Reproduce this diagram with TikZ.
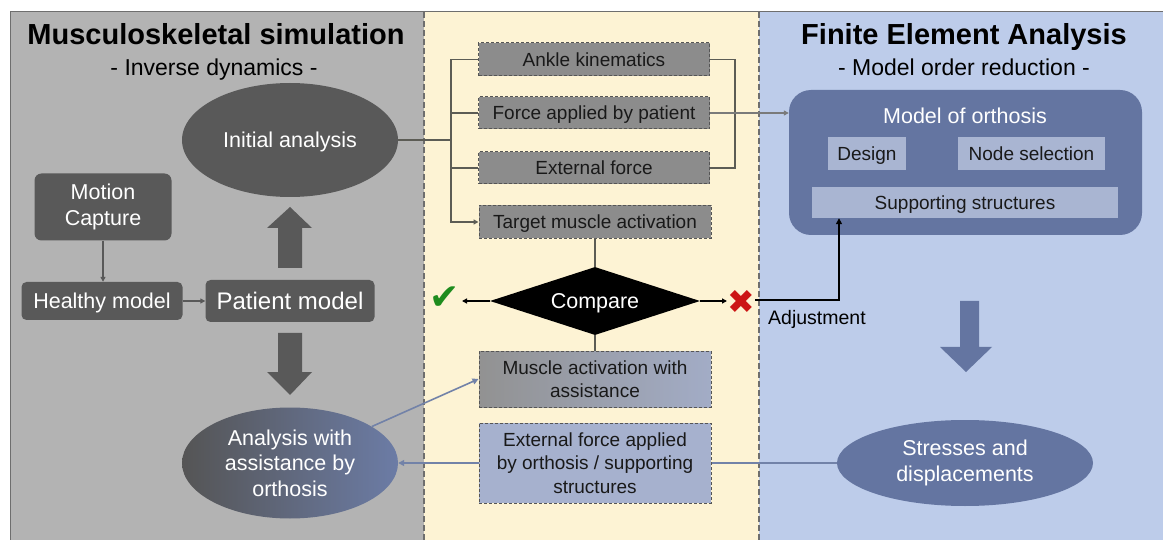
\documentclass[tikz,border=0pt]{standalone}
\usepackage{fontspec}
\setmainfont{Liberation Sans}
\newfontfamily\symfont{DejaVu Sans}
\usetikzlibrary{shapes.geometric,arrows.meta,calc}
\definecolor{leftbg}{HTML}{B3B3B3}
\definecolor{midbg}{HTML}{FDF3D4}
\definecolor{rightbg}{HTML}{BDCCEA}
\definecolor{darknode}{HTML}{595959}
\definecolor{midgray}{HTML}{8C8C8C}
\definecolor{dashgray}{HTML}{555555}
\definecolor{slate}{HTML}{6475A1}
\definecolor{lightslate}{HTML}{A9B5D2}
\definecolor{extfill}{HTML}{A6B1CE}
\definecolor{connblue}{HTML}{7282A8}
\definecolor{conngray}{HTML}{5C5C55}
\definecolor{okgreen}{HTML}{1E8C1E}
\definecolor{nored}{HTML}{CC1515}
\definecolor{divider}{HTML}{6E6E6E}
\begin{document}
\begin{tikzpicture}[x=1pt,y=-1pt,
  fs/.style={font=\fontsize{#1}{26}\selectfont},
  capsmid/.style={text height=#1, text depth=0pt},
  titletext/.style={font=\fontsize{29}{34}\selectfont\bfseries, anchor=base, inner sep=0},
  subtext/.style={font=\fontsize{23}{28}\selectfont, anchor=base, inner sep=0},
  darkbox/.style={rectangle, rounded corners=7pt, fill=darknode, text=white, align=center, inner sep=0},
  darkell/.style={ellipse, fill=darknode, text=white, align=center, inner sep=0, font=\fontsize{21.5}{26}\selectfont},
  midboxbase/.style={rectangle, fill=midgray, draw=dashgray, dash pattern=on 3pt off 2pt, line width=1pt,
     font=\fontsize{19}{23.5}\selectfont, text=black!90, align=center, inner sep=0},
  midbox/.style={midboxbase, capsmid=14pt},
  slatebox/.style={rectangle, fill=lightslate, font=\fontsize{19}{23}\selectfont, text=black!90, inner sep=0,
     capsmid=14pt},
  thinarrow/.style={draw=darknode, line width=1.2pt, -{Triangle[length=5pt,width=5pt]}},
  conn/.style={draw=conngray, line width=1.5pt},
  connarrow/.style={conn, -{Triangle[length=5pt,width=5pt]}},
  blueconn/.style={draw=connblue, line width=1.6pt},
  bluearrow/.style={blueconn, -{Triangle[length=6pt,width=6pt]}},
  adjarrow/.style={draw=black, line width=2pt, -{Triangle[length=6pt,width=6pt]}},
  dividerline/.style={draw=divider, line width=1.5pt, dash pattern=on 6pt off 3pt}
]
\useasboundingbox (0,0) rectangle (1163,540);
% panels
\fill[leftbg] (10,12) rectangle (424,540);
\fill[midbg] (424,12) rectangle (759,540);
\fill[rightbg] (759,12) rectangle (1163,540);
\draw[divider, line width=1pt] (10,540) -- (10,12) -- (1163,12);
\draw[dividerline] (424,12) -- (424,540);
\draw[dividerline] (759,12) -- (759,540);

% titles
\node[titletext] (t1) at (216,45) {Musculoskeletal simulation};
\node[subtext] (s1) at (214,76) {- Inverse dynamics -};
\node[titletext] (t2) at (964,45) {Finite Element Analysis};
\node[subtext] (s2) at (964,76) {- Model order reduction -};

% left panel nodes
\node[darkell, minimum width=216, minimum height=114, capsmid=15.5pt] (initial) at (290,140) {Initial analysis};
\node[darkbox, minimum width=137, minimum height=67, fs=21.5] (motion) at (103,207) {Motion\\Capture};
\node[darkbox, minimum width=161, minimum height=38, fs=21.5, rounded corners=5pt, capsmid=15.5pt] (healthy) at (102,301) {Healthy model};
\node[darkbox, minimum width=169, minimum height=42, fs=24, rounded corners=5pt, capsmid=17.3pt] (patient) at (290,301) {Patient model};
\node[ellipse, left color=darknode!95!black, right color=slate!95, text=white, align=center, inner sep=0,
      font=\fontsize{21.5}{25.5}\selectfont, minimum width=216, minimum height=111] (analysis) at (290,463)
      {Analysis with\\assistance by\\orthosis};

\draw[thinarrow] (motion.south) -- (motion.south |- healthy.north);
\draw[thinarrow] (healthy.east) -- (patient.west);

% big block arrows (left)
\fill[darknode] (278,268) -- (302,268) -- (302,228) -- (312,228) -- (290,207) -- (267,228) -- (278,228) -- cycle;
\fill[darknode] (278,333) -- (302,333) -- (302,372) -- (312,372) -- (290,395) -- (267,372) -- (278,372) -- cycle;

% middle panel
\node[midbox, minimum width=231, minimum height=33] (ankle) at (594,59.5) {Ankle kinematics};
\node[midbox, minimum width=231, minimum height=32] (force) at (594,113) {Force applied by patient};
\node[midbox, minimum width=231, minimum height=32] (external) at (594,168) {External force};
\node[midbox, minimum width=232, minimum height=33] (target) at (595,222) {Target muscle activation};
\node[diamond, fill=black, text=white, inner sep=0, minimum width=210, minimum height=68, aspect=3.09,
      font=\fontsize{21.5}{26}\selectfont, capsmid=15.5pt] (compare) at (595,301) {Compare};
\node[midboxbase, minimum width=232, minimum height=56, left color=midgray!95, right color=extfill!90!gray] (muscle) at (595,379) {Muscle activation with\\assistance};
\node[midboxbase, fill=extfill, minimum width=232, minimum height=80] (extf) at (595,463)
      {External force applied\\by orthosis / supporting\\structures};
\node[inner sep=0, text=okgreen, font=\symfont\fontsize{36}{36}\selectfont] (check) at (445,298) {✔};
\node[inner sep=0, text=nored, font=\symfont\fontsize{33}{33}\selectfont] (cross) at (741,302) {✖};

\coordinate (bx) at (451,0);
\coordinate (rx) at (735,0);
\draw[conn] (initial.east) -- (bx |- initial.east);
\draw[connarrow] (ankle.west) -| (bx |- target.west) -- (target.west);
\draw[conn] (force.west) -- (bx |- force.west);
\draw[conn] (external.west) -- (bx |- external.west);
\draw[conn] (ankle.east) -| (rx |- external.east) -- (external.east);
\draw[conn] (target.south) -- (compare.north);
\draw[conn] (compare.south) -- (muscle.north);
\draw[draw=black, line width=1.3pt, -{Triangle[length=5pt,width=5pt]}] (compare.west) -- (462,301);
\draw[draw=black, line width=1.3pt, -{Triangle[length=5pt,width=5pt]}] (compare.east) -- (727,301);

% right panel
\node[rectangle, rounded corners=22pt, fill=slate, minimum width=353, minimum height=145, inner sep=0] (orthosis) at (965.5,162.5) {};
\node[inner sep=0, text=white, font=\fontsize{21.5}{26}\selectfont, anchor=base] (orthtitle) at (965,124) {Model of orthosis};
\node[slatebox, minimum width=78, minimum height=33] (design) at (867,153.5) {Design};
\node[slatebox, minimum width=147, minimum height=33] (nodesel) at (1031.5,153.5) {Node selection};
\node[slatebox, minimum width=306, minimum height=31] (support) at (965,202.5) {Supporting structures};
\node[ellipse, fill=slate, text=white, align=center, inner sep=0, font=\fontsize{21.5}{25.5}\selectfont,
      minimum width=256, minimum height=86] (stresses) at (965,463) {Stresses and\\displacements};
\fill[slate] (960,301) -- (979,301) -- (979,347) -- (992,347) -- (966,372) -- (940,347) -- (960,347) -- cycle;

\draw[draw=darknode!80, line width=1.2pt, -{Triangle[length=5pt,width=5pt]}] (force.east) -- (force.east -| orthosis.west);
\coordinate (adjc) at (839,300);
\draw[adjarrow] (cross.east |- adjc) -- (adjc) -- (adjc |- support.south);
\node[inner sep=0, anchor=base west, font=\fontsize{19.5}{23}\selectfont] (adjlabel) at (768,325) {Adjustment};

% blue connectors
\draw[bluearrow] (analysis) -- (muscle.west);
\draw[blueconn] (stresses.west) -- (extf.east);
\draw[bluearrow] (extf.west) -- (analysis.east);
\end{tikzpicture}
\end{document}
